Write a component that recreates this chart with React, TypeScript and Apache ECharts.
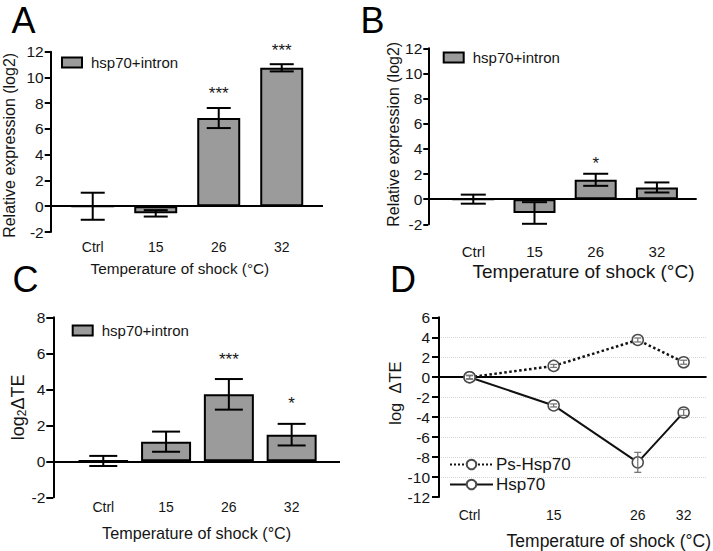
import React, { useEffect, useRef } from "react";
import * as echarts from "echarts";

const FONT = "'Liberation Sans', Arial, Helvetica, sans-serif";
const TXT = "#151515";

// ---- data ----
const categories = ["Ctrl", "15", "26", "32"];
const barPositions = [0, 1, 2, 3];
const legendName = "hsp70+intron";

const aValues = [0, -0.55, 6.85, 10.75];
const aErrors = [1.05, 0.25, 0.78, 0.28];
const aStars = ["", "", "***", "***"];

const bValues = [0, -1.1, 1.54, 0.93];
const bErrors = [0.36, 0.86, 0.48, 0.4];
const bStars = ["", "", "*", ""];

const cValues = [0.02, 1.09, 3.72, 1.48];
const cErrors = [0.28, 0.56, 0.85, 0.6];
const cStars = ["", "", "***", "*"];

const dPositions = [4, 15, 26, 32];
const dPsHsp70 = [0, 1.13, 3.73, 1.5];
const dPsHsp70Err = [0.15, 0.15, 0.2, 0.2];
const dHsp70 = [0, -2.83, -8.53, -3.53];
const dHsp70Err = [0.2, 0.15, 1.0, 0.3];

// ---- helpers ----
function errorSeries(
  gridIndex: number,
  xs: number[],
  vals: number[],
  errs: number[],
  stars: string[],
  capW: number,
  color: string,
  lw: number,
  starGap: number,
  z: number
) {
  return {
    type: "custom",
    xAxisIndex: gridIndex,
    yAxisIndex: gridIndex,
    z,
    silent: true,
    data: xs.map((x, i) => [x, vals[i], errs[i]]),
    encode: { x: 0, y: 1 },
    renderItem: (params: any, api: any) => {
      const x = api.value(0);
      const y = api.value(1);
      const e = api.value(2);
      const top = api.coord([x, y + e]);
      const bot = api.coord([x, y - e]);
      const hw = capW / 2;
      const st = { stroke: color, lineWidth: lw };
      const children: any[] = [
        { type: "line", shape: { x1: top[0], y1: top[1], x2: bot[0], y2: bot[1] }, style: st },
        { type: "line", shape: { x1: top[0] - hw, y1: top[1], x2: top[0] + hw, y2: top[1] }, style: st },
        { type: "line", shape: { x1: bot[0] - hw, y1: bot[1], x2: bot[0] + hw, y2: bot[1] }, style: st },
      ];
      const s = stars[params.dataIndex];
      if (s) {
        children.push({
          type: "text",
          style: {
            text: s,
            x: top[0],
            y: top[1] - starGap,
            fontSize: 17,
            fontFamily: FONT,
            fill: TXT,
            align: "center",
            verticalAlign: "middle",
          },
        });
      }
      return { type: "group", children };
    },
  };
}

function barPanel(p: {
  idx: number;
  grid: { left: number; top: number; width: number; height: number };
  xMin: number;
  xMax: number;
  yMin: number;
  yMax: number;
  values: number[];
  errors: number[];
  stars: string[];
  barWidth: number;
  capW: number;
  starGap: number;
  tickLen: number;
  tickMargin: number;
  xLabelSize: number;
  xLabelMargin: number;
  xName: string;
  xNameSize: number;
  xNameGap: number;
  xNamePad: number[];
  yName: any;
  yNameSize: number;
  yNameGap: number;
  yNamePad: number[];
  yNameRich?: any;
  legendLeft: number;
  legendTop: number;
}) {
  const grid = { ...p.grid, containLabel: false };
  const xAxis = {
    type: "value",
    gridIndex: p.idx,
    min: p.xMin,
    max: p.xMax,
    position: "bottom",
    axisLine: { show: false, onZero: false },
    axisTick: { show: false },
    splitLine: { show: false },
    axisLabel: {
      customValues: barPositions,
      formatter: (v: number) => categories[Math.round(v)] ?? "",
      fontSize: p.xLabelSize,
      fontFamily: FONT,
      color: TXT,
      margin: p.xLabelMargin,
    },
    name: p.xName,
    nameLocation: "middle",
    nameGap: p.xNameGap,
    nameTextStyle: { fontSize: p.xNameSize, fontFamily: FONT, color: TXT, padding: p.xNamePad },
  };
  const yAxis = {
    type: "value",
    gridIndex: p.idx,
    min: p.yMin,
    max: p.yMax,
    interval: 2,
    axisLine: { show: true, onZero: false, lineStyle: { color: "#000", width: 2 } },
    axisTick: { show: true, length: p.tickLen, lineStyle: { color: "#000", width: 2 } },
    axisLabel: { fontSize: 15.5, fontFamily: FONT, color: TXT, margin: p.tickMargin },
    splitLine: { show: false },
    name: p.yName,
    nameLocation: "middle",
    nameGap: p.yNameGap,
    nameTextStyle: {
      fontSize: p.yNameSize,
      fontFamily: FONT,
      color: TXT,
      padding: p.yNamePad,
      rich: p.yNameRich,
    },
  };
  const bar = {
    type: "bar",
    name: legendName,
    xAxisIndex: p.idx,
    yAxisIndex: p.idx,
    barWidth: p.barWidth,
    data: barPositions.map((x, i) => [x, p.values[i]]),
    itemStyle: { color: "#9b9b9b", borderColor: "#000", borderWidth: 2 },
    z: 2,
    markLine: {
      silent: true,
      symbol: ["none", "none"],
      label: { show: false },
      lineStyle: { color: "#000", width: 2, type: "solid" },
      data: [{ yAxis: 0 }],
    },
  };
  const err = errorSeries(p.idx, barPositions, p.values, p.errors, p.stars, p.capW, "#000", 2, p.starGap, 5);
  const legend = {
    left: p.legendLeft,
    top: p.legendTop,
    padding: 0,
    selectedMode: false,
    data: [{ name: legendName, icon: "rect" }],
    itemWidth: 20,
    itemHeight: 10,
    itemStyle: { color: "#9b9b9b", borderColor: "#000", borderWidth: 2 },
    textStyle: { fontSize: 15, fontFamily: FONT, color: TXT, padding: [0, 0, 0, 4] },
  };
  return { grid, xAxis, yAxis, series: [bar, err], legend };
}

export default function App() {
  const ref = useRef<HTMLDivElement>(null);

  useEffect(() => {
    if (!ref.current) return;
    const chart = echarts.init(ref.current, undefined, { renderer: "svg" });

    const pA = barPanel({
      idx: 0,
      grid: { left: 50.7, top: 51.7, width: 272.3, height: 180.3 },
      xMin: -0.667,
      xMax: 3.655,
      yMin: -2,
      yMax: 12,
      values: aValues,
      errors: aErrors,
      stars: aStars,
      barWidth: 43,
      capW: 24,
      starGap: 14,
      tickLen: 6,
      tickMargin: 7,
      xLabelSize: 14,
      xLabelMargin: 8,
      xName: "Temperature of shock (°C)",
      xNameSize: 15.3,
      xNameGap: 29,
      xNamePad: [0, 14, 0, 0],
      yName: "Relative expression (log2)",
      yNameSize: 16,
      yNameGap: 33,
      yNamePad: [0, 7, 0, 0],
      legendLeft: 61,
      legendTop: 55,
    });
    const pB = barPanel({
      idx: 1,
      grid: { left: 428.3, top: 48.3, width: 268.4, height: 176 },
      xMin: -0.735,
      xMax: 3.65,
      yMin: -2,
      yMax: 12,
      values: bValues,
      errors: bErrors,
      stars: bStars,
      barWidth: 42,
      capW: 25,
      starGap: 10,
      tickLen: 5,
      tickMargin: 6,
      xLabelSize: 15,
      xLabelMargin: 20,
      xName: "Temperature of shock (°C)",
      xNameSize: 19,
      xNameGap: 38,
      xNamePad: [0, 0, 0, 42],
      yName: "Relative expression (log2)",
      yNameSize: 16,
      yNameGap: 27,
      yNamePad: [0, 0, 0, 4],
      legendLeft: 442.7,
      legendTop: 50,
    });
    const pC = barPanel({
      idx: 2,
      grid: { left: 53.3, top: 317.3, width: 286.7, height: 180 },
      xMin: -0.796,
      xMax: 3.77,
      yMin: -2,
      yMax: 8,
      values: cValues,
      errors: cErrors,
      stars: cStars,
      barWidth: 50,
      capW: 28,
      starGap: 20,
      tickLen: 7,
      tickMargin: 8,
      xLabelSize: 14,
      xLabelMargin: 3,
      xName: "Temperature of shock (°C)",
      xNameSize: 16.2,
      xNameGap: 28,
      xNamePad: [0, 0, 0, 0],
      yName: "{a|log}{s|2}{a|ΔTE}",
      yNameSize: 18,
      yNameGap: 20,
      yNamePad: [0, 0, 0, 0],
      yNameRich: {
        a: { fontSize: 18, fontFamily: FONT, color: TXT },
        s: { fontSize: 12, fontFamily: FONT, color: TXT, padding: [8, 0, 0, 0] },
      },
      legendLeft: 71.7,
      legendTop: 323,
    });

    const dGrid = { left: 439, top: 317.3, width: 270.5, height: 180, containLabel: false };
    const dX = {
      type: "value",
      gridIndex: 3,
      min: 0,
      max: 35,
      position: "bottom",
      axisLine: { show: false, onZero: false },
      axisTick: { show: false },
      splitLine: { show: false },
      axisLabel: {
        customValues: dPositions,
        formatter: (v: number) => categories[dPositions.indexOf(v)] ?? "",
        fontSize: 14,
        fontFamily: FONT,
        color: TXT,
        margin: 11,
      },
      name: "Temperature of shock (°C)",
      nameLocation: "middle",
      nameGap: 35,
      nameTextStyle: { fontSize: 17.5, fontFamily: FONT, color: TXT, padding: [0, 0, 0, 72] },
    };
    const dY = {
      type: "value",
      gridIndex: 3,
      min: -12,
      max: 6,
      interval: 2,
      axisLine: { show: true, onZero: false, lineStyle: { color: "#000", width: 2 } },
      axisTick: { show: true, length: 7, lineStyle: { color: "#000", width: 2 } },
      axisLabel: { fontSize: 15.5, fontFamily: FONT, color: TXT, margin: 9 },
      splitLine: {
        show: true,
        showMinLine: false,
        showMaxLine: false,
        lineStyle: { color: "#d6d6d6", width: 1, type: "dotted" },
      },
      name: "log  ΔTE",
      nameLocation: "middle",
      nameGap: 33,
      nameTextStyle: { fontSize: 16.5, fontFamily: FONT, color: TXT, padding: [0, 0, 0, 28] },
    };
    const markerStyle = { color: "#fff", borderColor: "#4a4a4a", borderWidth: 1.5 };
    const dSeries: any[] = [
      {
        type: "line",
        name: "Ps-Hsp70",
        xAxisIndex: 3,
        yAxisIndex: 3,
        data: dPositions.map((x, i) => [x, dPsHsp70[i]]),
        symbol: "circle",
        symbolSize: 11,
        itemStyle: markerStyle,
        lineStyle: { color: "#111", width: 2.5, type: "dotted" },
        z: 3,
      },
      {
        type: "line",
        name: "Hsp70",
        xAxisIndex: 3,
        yAxisIndex: 3,
        data: dPositions.map((x, i) => [x, dHsp70[i]]),
        symbol: "circle",
        symbolSize: 11,
        itemStyle: markerStyle,
        lineStyle: { color: "#111", width: 2, type: "solid" },
        z: 3,
        markLine: {
          silent: true,
          symbol: ["none", "none"],
          label: { show: false },
          lineStyle: { color: "#000", width: 2, type: "solid" },
          data: [{ yAxis: 0 }],
          z: 1,
        },
      },
      errorSeries(3, dPositions, dHsp70, dHsp70Err, ["", "", "", ""], 7, "#777", 1.3, 0, 6),
      errorSeries(3, dPositions, dPsHsp70, dPsHsp70Err, ["", "", "", ""], 7, "#777", 1.3, 0, 6),
    ];
    const dLegend = {
      left: 449,
      top: 456,
      orient: "vertical",
      padding: 0,
      selectedMode: false,
      itemWidth: 43,
      itemHeight: 12,
      itemGap: 3,
      data: ["Ps-Hsp70", "Hsp70"],
      textStyle: { fontSize: 17, fontFamily: FONT, color: TXT, padding: [0, 0, 0, -2] },
    };

    const letter = (t: string, x: number, y: number) => ({
      type: "text",
      x,
      y,
      style: {
        text: t,
        fontSize: 36,
        fontFamily: FONT,
        fill: "#000",
        align: "center",
        verticalAlign: "middle",
      },
    });

    chart.setOption({
      animation: false,
      backgroundColor: "#fff",
      textStyle: { fontFamily: FONT },
      grid: [pA.grid, pB.grid, pC.grid, dGrid],
      xAxis: [pA.xAxis, pB.xAxis, pC.xAxis, dX],
      yAxis: [pA.yAxis, pB.yAxis, pC.yAxis, dY],
      legend: [pA.legend, pB.legend, pC.legend, dLegend],
      series: [...pA.series, ...pB.series, ...pC.series, ...dSeries],
      graphic: [
        letter("A", 23.5, 20),
        letter("B", 372.5, 20),
        letter("C", 25.5, 279),
        letter("D", 403, 279),
      ],
    } as any);

    return () => chart.dispose();
  }, []);

  return (
    <div
      ref={ref}
      style={{ position: "absolute", left: 0, top: 0, width: 713, height: 551, background: "#fff" }}
    />
  );
}
